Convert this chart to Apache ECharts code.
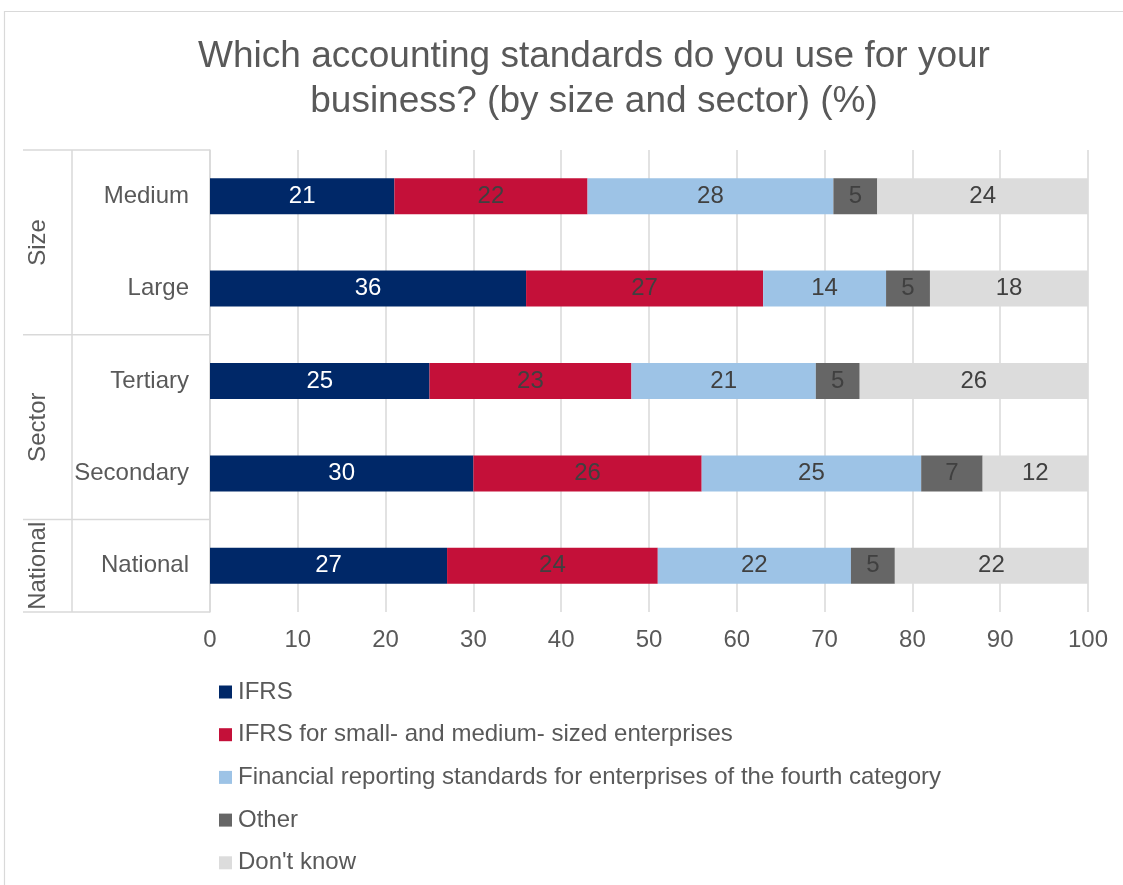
<!DOCTYPE html>
<html>
<head>
<meta charset="utf-8">
<script src="https://cdn.jsdelivr.net/npm/echarts@6/dist/echarts.min.js"></script>
<style>
  html, body { margin: 0; padding: 0; background: #ffffff; }
  #chart { width: 1123px; height: 885px; }
</style>
</head>
<body>
<div id="chart"></div>
<script>
// Rows, top to bottom
const categories = ['Medium', 'Large', 'Tertiary', 'Secondary', 'National'];
// Row groups: label and number of rows each covers
const groupNames = ['Size', 'Sector', 'National'];
const groupSizes = [2, 2, 1];

const seriesNames = [
  'IFRS',
  'IFRS for small- and medium- sized enterprises',
  'Financial reporting standards for enterprises of the fourth category',
  'Other',
  "Don't know"
];
const ifrs      = [21, 36, 25, 30, 27];
const ifrsSme   = [22, 27, 23, 26, 24];
const fourthCat = [28, 14, 21, 25, 22];
const other     = [5, 5, 5, 7, 5];
const dontKnow  = [24, 18, 26, 12, 22];
const xTicks = [0, 10, 20, 30, 40, 50, 60, 70, 80, 90, 100];

const seriesValues = [ifrs, ifrsSme, fourthCat, other, dontKnow];
const colors = ['#002868', '#c41039', '#9dc3e6', '#666666', '#dcdcdc'];
const labelColors = ['#ffffff', '#404040', '#404040', '#404040', '#404040'];

const FONT = '"Liberation Sans", Arial, sans-serif';
const FS = 24;
const GRID = { left: 210, top: 150, width: 878, height: 462 };

const chart = echarts.init(document.getElementById('chart'), null, { renderer: 'canvas' });

const series = seriesValues.map((vals, i) => ({
  name: seriesNames[i],
  type: 'bar',
  stack: 'total',
  data: vals,
  barWidth: 36,
  itemStyle: { color: colors[i] },
  label: {
    show: true,
    position: 'inside',
    color: labelColors[i],
    fontFamily: FONT,
    fontSize: FS
  },
  emphasis: { disabled: true }
}));

chart.setOption({
  backgroundColor: '#ffffff',
  animation: false,
  title: {
    text: 'Which accounting standards do you use for your\nbusiness? (by size and sector) (%)',
    left: 589,
    textAlign: 'center',
    top: 29,
    textStyle: {
      fontFamily: FONT,
      fontSize: 37,
      fontWeight: 'normal',
      color: '#595959',
      lineHeight: 45
    }
  },
  color: colors,
  legend: {
    orient: 'vertical',
    left: 214,
    top: 675,
    height: 240,
    itemWidth: 13,
    itemHeight: 13,
    itemGap: 18.7,
    icon: 'rect',
    textStyle: {
      fontFamily: FONT, fontSize: FS, color: '#595959',
      padding: [0, 0, 0, 1]
    },
    data: seriesNames
  },
  grid: GRID,
  xAxis: {
    type: 'value',
    min: 0,
    max: 100,
    interval: 10,
    axisLine: { show: false },
    axisTick: { show: false },
    splitLine: { show: true, lineStyle: { color: '#d9d9d9', width: 1.5 } },
    axisLabel: {
      fontFamily: FONT,
      fontSize: FS,
      color: '#595959',
      margin: 16,
      formatter: v => (xTicks.indexOf(v) >= 0 ? String(v) : '')
    }
  },
  yAxis: {
    type: 'category',
    inverse: true,
    data: categories,
    axisLine: { show: true, lineStyle: { color: '#d9d9d9', width: 1.5 } },
    axisTick: { show: false },
    axisLabel: { fontFamily: FONT, fontSize: FS, color: '#595959', margin: 21 }
  },
  series: series
});

// Outer chart frame and the multi-level category table on the left
function drawTable() {
  const lineStyle = { stroke: '#d9d9d9', lineWidth: 1.5 };
  const tableLeft = 23;
  const divider = 72;
  const right = GRID.left;
  const bandH = GRID.height / categories.length;
  const els = [];
  els.push({
    type: 'rect', silent: true,
    shape: { x: 4.5, y: 11.5, width: 1130, height: 900 },
    style: { fill: 'none', stroke: '#d9d9d9', lineWidth: 1.2 }
  });
  els.push({ type: 'line', silent: true,
    shape: { x1: divider, y1: GRID.top, x2: divider, y2: GRID.top + GRID.height }, style: lineStyle });
  let row = 0;
  groupSizes.forEach((n, g) => {
    const y0 = GRID.top + row * bandH;
    const y1 = y0 + n * bandH;
    els.push({ type: 'line', silent: true,
      shape: { x1: tableLeft, y1: y0, x2: right, y2: y0 }, style: lineStyle });
    els.push({
      type: 'text', silent: true,
      x: 38, y: (y0 + y1) / 2, rotation: Math.PI / 2,
      style: {
        text: groupNames[g], fontFamily: FONT, fontSize: FS, fill: '#595959',
        align: 'center', verticalAlign: 'middle'
      }
    });
    row += n;
  });
  const yb = GRID.top + GRID.height;
  els.push({ type: 'line', silent: true,
    shape: { x1: tableLeft, y1: yb, x2: right, y2: yb }, style: lineStyle });
  chart.setOption({ graphic: els });
}
drawTable();
</script>
</body>
</html>
